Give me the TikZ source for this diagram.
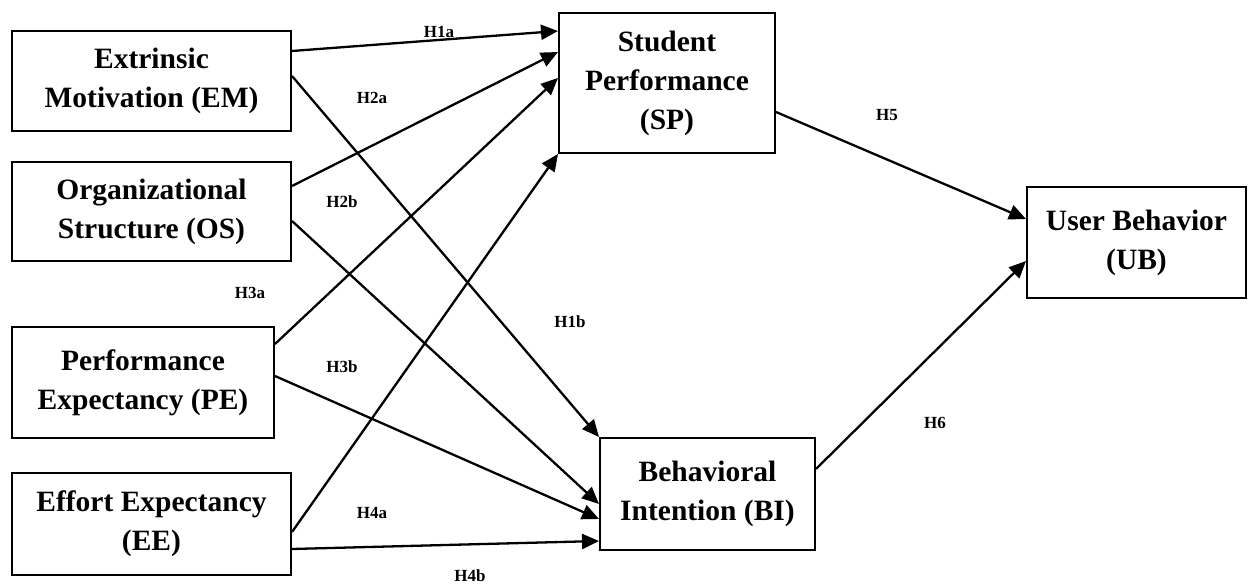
\documentclass[tikz,border=0pt]{standalone}
\usepackage{fontspec}
\setmainfont{Liberation Serif}
\usetikzlibrary{arrows.meta,calc}
\begin{document}
\begin{tikzpicture}[x=0.5pt,y=-0.5pt,
  box/.style={draw, line width=1pt, inner sep=0pt, align=center,
    font=\fontsize{14.75}{19.5}\selectfont\bfseries},
  hlab/.style={font=\fontsize{8.5}{10}\selectfont\bfseries, inner sep=0pt},
  link/.style={line width=1.15pt, -{Triangle[length=8.5pt,width=7.5pt]}}]
\useasboundingbox (0,0) rectangle (1248,587);
% boxes
\node[box, minimum width=139.5pt, minimum height=50pt] (em) at (151.5,81) {Extrinsic\\Motivation (EM)};
\node[box, minimum width=139.5pt, minimum height=49.5pt] (os) at (151.5,211.5) {Organizational\\Structure (OS)};
\node[box, minimum width=131pt, minimum height=55.5pt] (pe) at (143,382.5) {Performance\\Expectancy (PE)};
\node[box, minimum width=139.5pt, minimum height=51pt] (ee) at (151.5,524) {Effort Expectancy\\(EE)};
\node[box, minimum width=108pt, minimum height=70pt] (sp) at (667,83) {Student\\Performance\\(SP)};
\node[box, minimum width=107.5pt, minimum height=56pt] (bi) at (707.5,494) {Behavioral\\Intention (BI)};
\node[box, minimum width=109.5pt, minimum height=55.5pt] (ub) at (1136.5,242.5) {User Behavior\\(UB)};
% connectors
\draw[link] ($(em.north east)+(0,21)$) -- ($(sp.north west)+(0,19)$);
\draw[link] ($(em.north east)+(0,46)$) -- (bi.north west);
\draw[link] ($(os.north east)+(0,25)$) -- ($(sp.north west)+(0,40)$);
\draw[link] ($(os.north east)+(0,60)$) -- ($(bi.north west)+(0,67)$);
\draw[link] ($(pe.north east)+(0,18)$) -- ($(sp.north west)+(0,66)$);
\draw[link] ($(pe.north east)+(0,50)$) -- ($(bi.north west)+(0,82)$);
\draw[link] ($(ee.north east)+(0,60)$) -- (sp.south west);
\draw[link] ($(ee.north east)+(0,77)$) -- ($(bi.north west)+(0,104)$);
\draw[link] ($(sp.north east)+(0,100)$) -- ($(ub.north west)+(0,33)$);
\draw[link] ($(bi.north east)+(0,32)$) -- ($(ub.north west)+(0,75)$);
% labels
\node[hlab] (l1a) at (439,32) {H1a};
\node[hlab] (l2a) at (372,98) {H2a};
\node[hlab] (l2b) at (342,202) {H2b};
\node[hlab] (l3a) at (250,293) {H3a};
\node[hlab] (l1b) at (570,322) {H1b};
\node[hlab] (l3b) at (342,367) {H3b};
\node[hlab] (l4a) at (372,513) {H4a};
\node[hlab] (l4b) at (470,576) {H4b};
\node[hlab] (l5) at (887,115) {H5};
\node[hlab] (l6) at (935,423) {H6};
\end{tikzpicture}
\end{document}
